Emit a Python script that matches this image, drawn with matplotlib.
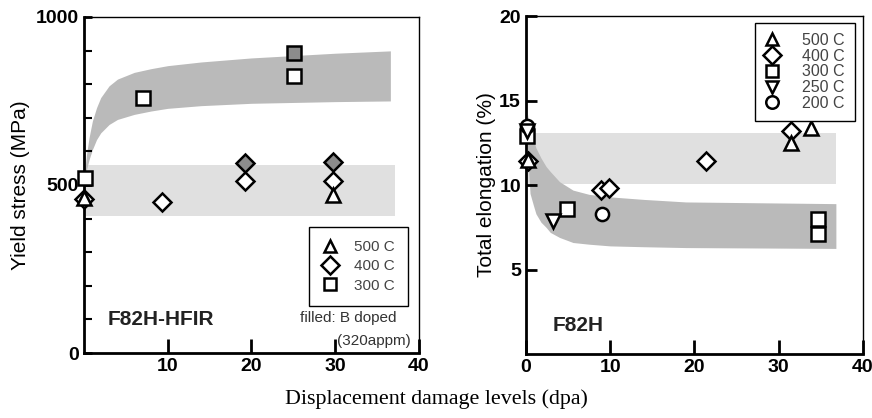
import matplotlib
matplotlib.use("Agg")
import matplotlib.pyplot as plt
from matplotlib.lines import Line2D

plt.rcParams['font.family'] = ['Liberation Sans', 'DejaVu Sans']

# ---- yield stress (F82H-HFIR) ----
ys_500_dpa = [0.0, 29.7]
ys_500_val = [460, 470]
ys_400_dpa = [0.0, 9.3, 19.2, 29.7]
ys_400_val = [458, 450, 513, 512]
ys_400b_dpa = [19.2, 29.7]          # B doped (filled)
ys_400b_val = [566, 568]
ys_300_dpa = [0.1, 7.0, 25.1]
ys_300_val = [521, 759, 824]
ys_300b_dpa = [25.1]
ys_300b_val = [892]

# scatter bands
ys_lo_band_x = [0.0, 37.2]
ys_lo_band_lo = [408, 408]
ys_lo_band_hi = [560, 560]
ys_hi_band_x = [0.1, 0.3, 0.6, 1.0, 1.5, 2.0, 3.0, 4.0, 6.0, 8.0, 10.0, 14.0, 20.0, 30.0, 36.6]
ys_hi_band_lo = [520, 545, 575, 605, 635, 655, 680, 695, 710, 720, 728, 736, 743, 748, 750]
ys_hi_band_hi = [540, 590, 640, 690, 730, 760, 795, 815, 835, 846, 855, 866, 878, 892, 899]

# ---- total elongation (F82H) ----
te_500_dpa = [0.2, 31.5, 33.9]
te_500_val = [11.5, 12.5, 13.4]
te_400_dpa = [0.2, 8.9, 9.9, 21.4, 31.5]
te_400_val = [11.4, 9.7, 9.85, 11.4, 13.2]
te_300_dpa = [0.1, 4.9, 34.7, 34.7]
te_300_val = [12.9, 8.6, 8.0, 7.1]
te_250_dpa = [0.1, 3.2]
te_250_val = [13.2, 7.85]
te_200_dpa = [0.1, 9.0]
te_200_val = [13.5, 8.3]

te_hi_band_x = [0.3, 36.8]
te_hi_band_lo = [10.05, 10.05]
te_hi_band_hi = [13.1, 13.1]
te_lo_band_x = [0.2, 0.5, 0.9, 1.2, 1.8, 2.4, 2.9, 4.0, 5.6, 7.5, 10.0, 14.0, 19.0, 36.8]
te_lo_band_lo = [12.0, 9.5, 8.8, 8.3, 7.8, 7.5, 7.2, 6.9, 6.6, 6.5, 6.4, 6.35, 6.3, 6.25]
te_lo_band_hi = [14.2, 13.2, 12.7, 12.2, 11.6, 11.1, 10.8, 10.2, 9.7, 9.45, 9.3, 9.15, 9.0, 8.9]

LIGHT = '#e0e0e0'
DARK = '#bababa'
FILL = '#8c8c8c'
MS = 9.5
MEW = 1.8


def pts(ax, x, y, marker, face='white'):
    ax.plot(x, y, linestyle='none', marker=marker, ms=MS, mew=MEW,
            mfc=face, mec='black', zorder=5, clip_on=False)


def frame(ax):
    for side in ['left', 'bottom']:
        ax.spines[side].set_linewidth(2.0)
    for side in ['top', 'right']:
        ax.spines[side].set_linewidth(1.0)
    ax.tick_params(direction='in', width=2, labelsize=14)
    for lab in ax.get_xticklabels() + ax.get_yticklabels():
        lab.set_fontweight('bold')


def legend(ax, items, anchor, spacing, pad, fs, textpad):
    handles = [Line2D([], [], linestyle='none', marker=m, ms=MS - 0.5, mew=MEW,
                      mfc='white', mec='black', label=l) for m, l in items]
    lg = ax.legend(handles=handles, loc='upper right', bbox_to_anchor=anchor,
                   fancybox=False, framealpha=1, edgecolor='black',
                   fontsize=fs, labelspacing=spacing, handletextpad=textpad,
                   handlelength=1.0, borderpad=pad, borderaxespad=0)
    lg.get_frame().set_linewidth(1.0)
    for t in lg.get_texts():
        t.set_color('#444444')


fig = plt.figure(figsize=(8.72, 4.18), dpi=100)

# left panel: yield stress
ax1 = fig.add_axes([0.0963, 0.1555, 0.384, 0.804])
ax1.fill_between(ys_lo_band_x, ys_lo_band_lo, ys_lo_band_hi, color=LIGHT, lw=0)
ax1.fill_between(ys_hi_band_x, ys_hi_band_lo, ys_hi_band_hi, color=DARK, lw=0)
pts(ax1, ys_300_dpa, ys_300_val, 's')
pts(ax1, ys_300b_dpa, ys_300b_val, 's', FILL)
pts(ax1, ys_400_dpa, ys_400_val, 'D')
pts(ax1, ys_400b_dpa, ys_400b_val, 'D', FILL)
pts(ax1, ys_500_dpa, ys_500_val, '^')
ax1.set_xlim(0, 40)
ax1.set_ylim(0, 1000)
ax1.set_xticks([10, 20, 30, 40])
ax1.set_yticks([0, 500, 1000])
ax1.set_yticks(range(100, 1000, 100), minor=True)
ax1.tick_params(axis='x', length=10)
ax1.tick_params(axis='y', length=6)
ax1.tick_params(axis='y', which='minor', direction='in', length=6, width=1.5)
frame(ax1)
ax1.set_ylabel('Yield stress (MPa)', fontsize=15, labelpad=4)
legend(ax1, [('^', '500 C'), ('D', '400 C'), ('s', '300 C')],
       (0.967, 0.375), 0.35, 0.85, 11, 1.1)
ax1.text(0.07, 0.1, 'F82H-HFIR', transform=ax1.transAxes, fontsize=15,
         fontweight='bold', color='#222222', va='center')
ax1.text(0.645, 0.105, 'filled: B doped', transform=ax1.transAxes, fontsize=11,
         color='#333333', va='center')
ax1.text(0.755, 0.035, '(320appm)', transform=ax1.transAxes, fontsize=11,
         color='#333333', va='center')

# right panel: total elongation
ax2 = fig.add_axes([0.603, 0.153, 0.3865, 0.8086])
ax2.fill_between(te_hi_band_x, te_hi_band_lo, te_hi_band_hi, color=LIGHT, lw=0)
ax2.fill_between(te_lo_band_x, te_lo_band_lo, te_lo_band_hi, color=DARK, lw=0)
pts(ax2, te_300_dpa, te_300_val, 's')
pts(ax2, te_200_dpa, te_200_val, 'o')
pts(ax2, te_250_dpa, te_250_val, 'v')
pts(ax2, te_400_dpa, te_400_val, 'D')
pts(ax2, te_500_dpa, te_500_val, '^')
ax2.set_xlim(0, 40)
ax2.set_ylim(0, 20)
ax2.set_xticks([0, 10, 20, 30, 40])
ax2.set_yticks([5, 10, 15, 20])
ax2.tick_params(axis='x', length=10)
ax2.tick_params(axis='y', length=8)
frame(ax2)
ax2.set_ylabel('Total elongation (%)', fontsize=15, labelpad=2)
legend(ax2, [('^', '500 C'), ('D', '400 C'), ('s', '300 C'),
             ('v', '250 C'), ('o', '200 C')], (0.976, 0.979), 0.05, 0.6, 11.5, 1.4)
ax2.text(0.08, 0.085, 'F82H', transform=ax2.transAxes, fontsize=15,
         fontweight='bold', color='#222222', va='center')

fig.text(0.5, 0.045, 'Displacement damage levels (dpa)', ha='center',
         va='center', fontsize=15.8, family='Liberation Serif')

fig.savefig('out.png', dpi=100)
